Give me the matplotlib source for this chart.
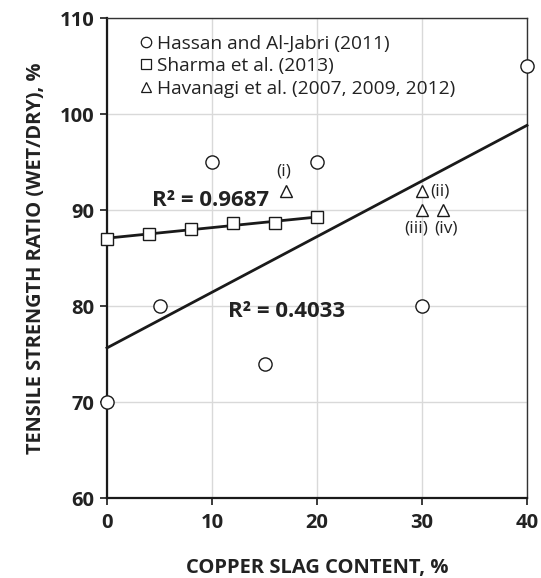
import numpy as np
import matplotlib
matplotlib.use("Agg")
import matplotlib.pyplot as plt
from matplotlib.lines import Line2D

plt.rcParams['font.family'] = ['Open Sans', 'DejaVu Sans']

# Hassan and Al-Jabri (2011)
hassan_x = [0, 5, 10, 15, 20, 30, 40]
hassan_y = [70, 80, 95, 74, 95, 80, 105]
# Sharma et al. (2013)
sharma_x = [0, 4, 8, 12, 16, 20]
sharma_y = [87, 87.5, 88, 88.6, 88.6, 89.3]
# Havanagi et al. (2007, 2009, 2012)
havanagi_x = [17, 30, 30, 32]
havanagi_y = [92, 92, 90, 90]
havanagi_tags = ["(i)", "(ii)", "(iii)", "(iv)"]

r2_sharma = "R² = 0.9687"
r2_hassan = "R² = 0.4033"

x_ticks = [0, 10, 20, 30, 40]
y_ticks = [60, 70, 80, 90, 100, 110]

fig = plt.figure(figsize=(5.41, 5.78), dpi=100)
ax = fig.add_axes([107/541, 1 - 498/578, 420/541, 480/578])

ax.set_xlim(0, 40)
ax.set_ylim(60, 110)
ax.set_xticks(x_ticks)
ax.set_yticks(y_ticks)
ax.grid(True, color='#d9d9d9', linewidth=1.0, zorder=0)
ax.set_axisbelow(True)

txt = '#222222'
for side in ['left', 'bottom']:
    ax.spines[side].set_linewidth(1.6)
    ax.spines[side].set_color('#1a1a1a')
for side in ['top', 'right']:
    ax.spines[side].set_linewidth(1.0)
    ax.spines[side].set_color('#333333')
ax.tick_params(direction='out', length=5, width=1.2, color='#1a1a1a',
               labelsize=14.5, labelcolor=txt)
ax.tick_params(axis='x', pad=6)
ax.tick_params(axis='y', pad=4)
for lab in ax.get_xticklabels() + ax.get_yticklabels():
    lab.set_fontweight('bold')

# linear trend lines
p_h = np.polyfit(hassan_x, hassan_y, 1)
xh = np.array([0, 40])
ax.plot(xh, np.polyval(p_h, xh), color='#1a1a1a', lw=2.0, zorder=3, clip_on=False)
p_s = np.polyfit(sharma_x, sharma_y, 1)
xs = np.array([0, 20])
ax.plot(xs, np.polyval(p_s, xs), color='#1a1a1a', lw=2.0, zorder=3, clip_on=False)

mk = dict(mfc='white', mec='#1a1a1a', mew=1.0, ls='none', zorder=5, clip_on=False)
ax.plot(hassan_x, hassan_y, marker='o', ms=9.5, **mk)
ax.plot(sharma_x, sharma_y, marker='s', ms=8.5, **mk)
ax.plot(havanagi_x, havanagi_y, marker='^', ms=9.0, **mk)

tag_pos = [(16.8, 94.0, 'center'), (30.75, 91.9, 'left'),
           (29.4, 88.1, 'center'), (32.3, 88.1, 'center')]
for tag, (tx, ty, ha) in zip(havanagi_tags, tag_pos):
    ax.text(tx, ty, tag, fontsize=12.5, color=txt, ha=ha, va='center')

ax.text(4.3, 91.0, r2_sharma, fontsize=16, fontweight='bold', color=txt,
        ha='left', va='center')
ax.text(11.5, 79.4, r2_hassan, fontsize=16, fontweight='bold', color=txt,
        ha='left', va='center')

ax.set_xlabel("COPPER SLAG CONTENT, %", fontsize=14.5, fontweight='bold',
              color=txt, labelpad=18)
ax.set_ylabel("TENSILE STRENGTH RATIO (WET/DRY), %", fontsize=14.4,
              fontweight='bold', color=txt, labelpad=10)

hk = dict(mfc='white', mec='#1a1a1a', mew=0.9, ls='none')
handles = [Line2D([], [], marker='o', ms=7.5, **hk),
           Line2D([], [], marker='s', ms=7.5, **hk),
           Line2D([], [], marker='^', ms=7.5, **hk)]
labels = ["Hassan and Al-Jabri (2011)", "Sharma et al. (2013)",
          "Havanagi et al. (2007, 2009, 2012)"]
leg = ax.legend(handles, labels, loc='upper left', bbox_to_anchor=(0.05, 0.99),
                frameon=False, fontsize=13.8, handlelength=0.7, handletextpad=0.2,
                labelspacing=0.25, borderaxespad=0.2)
for t in leg.get_texts():
    t.set_color(txt)

fig.savefig("out.png", dpi=100)
